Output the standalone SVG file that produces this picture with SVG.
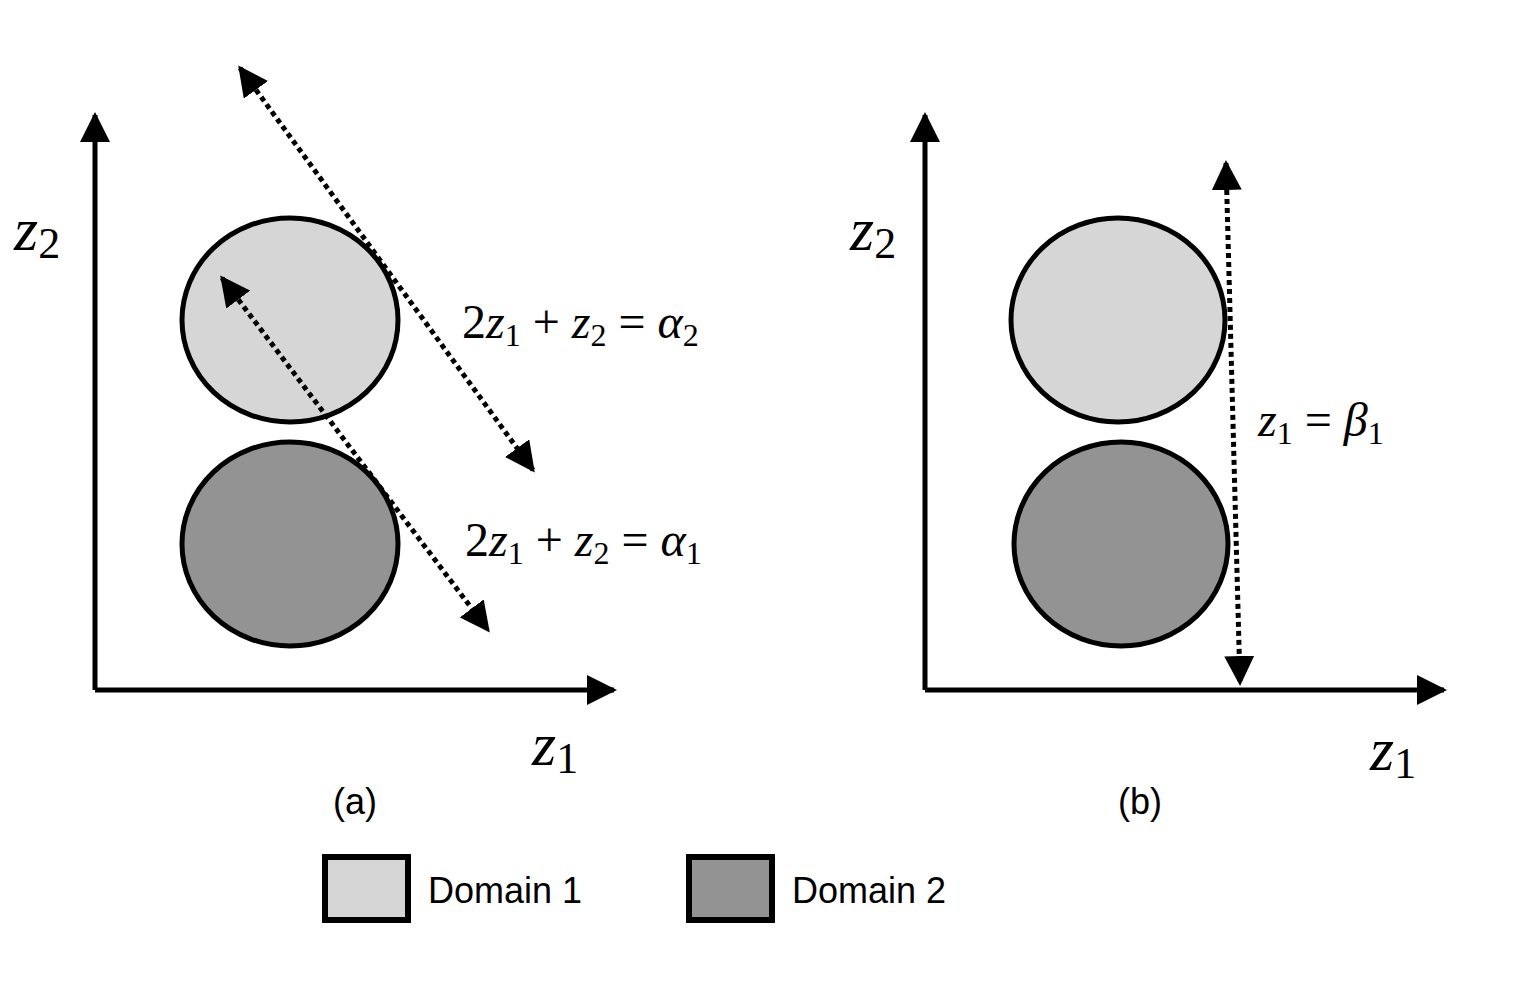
<svg xmlns="http://www.w3.org/2000/svg" width="1530" height="982" viewBox="0 0 1530 982">
<defs>
<marker id="ah" viewBox="0 0 10 10" refX="9" refY="5" markerWidth="6" markerHeight="6" orient="auto-start-reverse" markerUnits="strokeWidth"><path d="M0,0 L10,5 L0,10 z" fill="#000"/></marker>
<marker id="dh" viewBox="0 0 10 10" refX="9" refY="5" markerWidth="6" markerHeight="6" orient="auto-start-reverse" markerUnits="strokeWidth"><path d="M0,0 L10,5 L0,10 z" fill="#000"/></marker>
<style>
.ax{stroke:#000;stroke-width:5;fill:none}
.dot{stroke:#000;stroke-width:5;stroke-dasharray:5 4;fill:none}
.c1{fill:#d6d6d6;stroke:#000;stroke-width:5}
.c2{fill:#939393;stroke:#000;stroke-width:5}
.m{font-family:"Liberation Serif",serif;font-style:italic;font-size:62px}
.eq{font-family:"Liberation Serif",serif;font-size:48px}
.s{font-size:44px;font-style:normal}
.lb{font-family:"Liberation Sans",Arial,sans-serif;font-size:36px}
</style>
</defs>
<g id="node-circle-a1"><ellipse class="c1" cx="290" cy="320" rx="108" ry="102"/></g>
<g id="node-circle-a2"><ellipse class="c2" cx="290" cy="544" rx="108" ry="102"/></g>
<g id="node-circle-b1"><ellipse class="c1" cx="1118" cy="320" rx="107" ry="102"/></g>
<g id="node-circle-b2"><ellipse class="c2" cx="1121" cy="544" rx="107" ry="102"/></g>
<g id="connectors">
<path class="ax" d="M95,690 V115" marker-end="url(#ah)"/>
<path class="ax" d="M95,690 H614" marker-end="url(#ah)"/>
<path class="ax" d="M925,690 V115" marker-end="url(#ah)"/>
<path class="ax" d="M925,690 H1444" marker-end="url(#ah)"/>
<path class="dot" d="M240,68 L533,470" marker-start="url(#dh)" marker-end="url(#dh)"/>
<path class="dot" d="M222,278 L488,630" marker-start="url(#dh)" marker-end="url(#dh)"/>
<path class="dot" d="M1226,163 L1240,683" marker-start="url(#dh)" marker-end="url(#dh)"/>
</g>
<g id="labels">
<text class="m" x="14" y="250">z<tspan class="s" dy="8">2</tspan></text>
<text class="m" x="532" y="765">z<tspan class="s" dy="8">1</tspan></text>
<text class="m" x="850" y="250">z<tspan class="s" dy="8">2</tspan></text>
<text class="m" x="1370" y="770">z<tspan class="s" dy="8">1</tspan></text>
<text class="eq" x="462" y="338">2<tspan font-style="italic">z</tspan><tspan font-size="32" dy="8">1</tspan><tspan dy="-8"> + </tspan><tspan font-style="italic">z</tspan><tspan font-size="32" dy="8">2</tspan><tspan dy="-8"> = </tspan><tspan font-style="italic">α</tspan><tspan font-size="32" dy="8">2</tspan></text>
<text class="eq" x="465" y="556">2<tspan font-style="italic">z</tspan><tspan font-size="32" dy="8">1</tspan><tspan dy="-8"> + </tspan><tspan font-style="italic">z</tspan><tspan font-size="32" dy="8">2</tspan><tspan dy="-8"> = </tspan><tspan font-style="italic">α</tspan><tspan font-size="32" dy="8">1</tspan></text>
<text class="eq" x="1258" y="436"><tspan font-style="italic">z</tspan><tspan font-size="32" dy="8">1</tspan><tspan dy="-8"> = </tspan><tspan font-style="italic">β</tspan><tspan font-size="32" dy="8">1</tspan></text>
<text class="lb" x="355" y="814" text-anchor="middle">(a)</text>
<text class="lb" x="1140" y="814" text-anchor="middle">(b)</text>
</g>
<g id="legend-1"><rect x="325" y="857" width="83" height="63" fill="#d6d6d6" stroke="#000" stroke-width="6"/><text class="lb" x="428" y="903">Domain 1</text></g>
<g id="legend-2"><rect x="689" y="857" width="83" height="63" fill="#939393" stroke="#000" stroke-width="6"/><text class="lb" x="792" y="903">Domain 2</text></g>
</svg>
